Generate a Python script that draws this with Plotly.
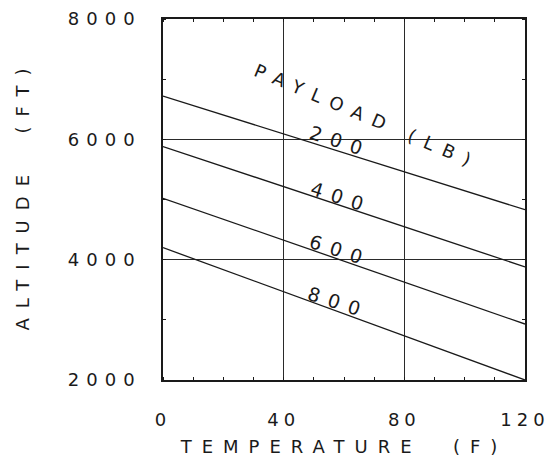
import plotly.graph_objects as go

# Data
temperature = [0, 120]
payload_labels = ["200", "400", "600", "800"]
altitude_200 = [6720, 4830]
altitude_400 = [5880, 3880]
altitude_600 = [5020, 2930]
altitude_800 = [4200, 2000]
series = [altitude_200, altitude_400, altitude_600, altitude_800]

x_ticks = [0, 40, 80, 120]
y_ticks = [2000, 4000, 6000, 8000]

# label anchor positions (data coords)
label_x = [57.3, 57.7, 57.3, 56.7]
label_y = [5990, 5060, 4180, 3310]

FONT = "DejaVu Sans"
INK = "#1a1a1a"

fig = go.Figure()
for s in series:
    fig.add_trace(go.Scatter(x=temperature, y=s, mode="lines",
                             line=dict(color=INK, width=1.3),
                             showlegend=False, hoverinfo="skip"))

for lab, lx, ly in zip(payload_labels, label_x, label_y):
    fig.add_annotation(x=lx, y=ly, text=lab, showarrow=False, textangle=18,
                       font=dict(family=FONT, size=19, color=INK))

fig.add_annotation(x=66.0, y=6405, text="PAYLOAD (LB)", showarrow=False, textangle=23,
                   font=dict(family=FONT, size=18, color=INK))

axis_common = dict(
    showline=True, linecolor=INK, linewidth=1.5, mirror="allticks",
    showgrid=True, gridcolor="#2a2a2a", gridwidth=1, automargin=False,
    zeroline=False, ticks="", tickfont=dict(family=FONT, size=18, color=INK),
)

fig.update_xaxes(range=[0, 120], tickvals=x_ticks, ticktext=[str(v) for v in x_ticks],
                 minor=dict(dtick=10, tick0=0, ticks="inside", ticklen=3, tickcolor=INK, showgrid=False),
                 ticklabelstandoff=23,
                 title=dict(text="TEMPERATURE  (F)", font=dict(family=FONT, size=18, color=INK), standoff=11),
                 **axis_common)
fig.update_yaxes(range=[2000, 8000], tickvals=y_ticks, ticktext=[str(v) for v in y_ticks],
                 minor=dict(dtick=1000, tick0=0, ticks="inside", ticklen=3, tickcolor=INK, showgrid=False),
                 ticklabelstandoff=23,
                 title=dict(text="ALTITUDE  (FT)", font=dict(family=FONT, size=18, color=INK), standoff=55),
                 **axis_common)

fig.update_layout(width=553, height=461, margin=dict(l=163, r=28, t=19, b=81),
                  plot_bgcolor="white", paper_bgcolor="white", showlegend=False)

# remove the page's default body margin and widen letter spacing
# to mimic the plotter's stroke font
post = """
document.documentElement.style.margin = '0';
document.body.style.margin = '0';
document.body.style.overflow = 'hidden';
var gd = document.getElementById('{plot_id}');
function spread(){
  function apply(sel, s, dx){
    gd.querySelectorAll(sel).forEach(function(t){
      var sp = (typeof s === 'function') ? s(t) : s;
      t.style.letterSpacing = sp + 'px';
      t.setAttribute('dx', (typeof dx === 'function') ? dx(t) : dx);
    });
  }
  apply('.ytick text', 7, 7);
  apply('.xtick text', 5, 0);
  apply('text.xtitle', 10, 0);
  apply('text.ytitle', 10, 5);
  apply('text.annotation-text',
        function(t){ return t.textContent.indexOf('PAYLOAD') >= 0 ? 10 : 9; },
        function(t){ return t.textContent.indexOf('PAYLOAD') >= 0 ? 5 : 4.5; });
}
spread();
gd.on('plotly_afterplot', spread);
"""

fig.write_html("out.html", post_script=post, config={"displayModeBar": False})
